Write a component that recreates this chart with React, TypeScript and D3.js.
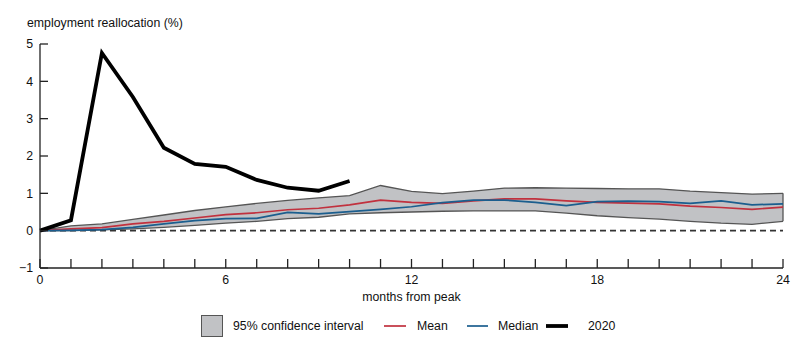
import React from "react";
import * as d3 from "d3";

// months from peak
const months = d3.range(0, 25);
const months2020 = d3.range(0, 11);

// employment reallocation (%)
const upper = [0, 0.13, 0.18, 0.3, 0.42, 0.54, 0.64, 0.73, 0.81, 0.88, 0.94, 1.21, 1.05, 0.99, 1.06, 1.14, 1.15, 1.14, 1.13, 1.12, 1.12, 1.06, 1.02, 0.98, 1.0];
const lower = [0, 0, 0.02, 0.05, 0.09, 0.14, 0.2, 0.25, 0.32, 0.36, 0.45, 0.48, 0.5, 0.52, 0.53, 0.53, 0.53, 0.47, 0.4, 0.35, 0.31, 0.25, 0.2, 0.17, 0.25];
const mean = [0, 0.05, 0.08, 0.18, 0.25, 0.34, 0.43, 0.48, 0.56, 0.6, 0.69, 0.82, 0.76, 0.73, 0.8, 0.85, 0.85, 0.8, 0.76, 0.74, 0.72, 0.66, 0.62, 0.57, 0.63];
const median = [0, 0.01, 0.03, 0.09, 0.18, 0.27, 0.32, 0.33, 0.49, 0.45, 0.51, 0.57, 0.64, 0.75, 0.82, 0.82, 0.76, 0.67, 0.78, 0.79, 0.78, 0.73, 0.8, 0.69, 0.72];
const y2020 = [0, 0.28, 4.76, 3.58, 2.22, 1.79, 1.71, 1.36, 1.15, 1.07, 1.33];

const yTicks = [-1, 0, 1, 2, 3, 4, 5];
const xLabels = [0, 6, 12, 18, 24];

const FONT = "'Liberation Sans', Arial, Helvetica, sans-serif";
const FS = 12.3;

const App = () => {
  const x = d3.scaleLinear().domain([0, 24]).range([40, 783]);
  const y = d3.scaleLinear().domain([-1, 5]).range([268, 44]);

  const band = d3
    .area<number>()
    .x((d) => x(d))
    .y0((d) => y(lower[d]))
    .y1((d) => y(upper[d]));
  const upperLine = d3.line<number>().x((d) => x(d)).y((d) => y(upper[d]));
  const lowerLine = d3.line<number>().x((d) => x(d)).y((d) => y(lower[d]));
  const meanLine = d3.line<number>().x((d) => x(d)).y((d) => y(mean[d]));
  const medianLine = d3.line<number>().x((d) => x(d)).y((d) => y(median[d]));
  const line2020 = d3.line<number>().x((d) => x(d)).y((d) => y(y2020[d]));

  const legendY = 326;

  return (
    <svg
      width={800}
      height={351}
      style={{ position: "absolute", left: 0, top: 0, background: "#fff" }}
      fontFamily={FONT}
    >
      <text x={27} y={27} fontSize={FS} fill="#111">
        employment reallocation (%)
      </text>

      {/* confidence band */}
      <path d={band(months)} fill="#c1c2c5" />
      <path d={upperLine(months)} fill="none" stroke="#555" strokeWidth={1.3} />
      <path d={lowerLine(months)} fill="none" stroke="#555" strokeWidth={1.3} />
      <line x1={x(24)} x2={x(24)} y1={y(upper[24])} y2={y(lower[24])} stroke="#555" strokeWidth={1.3} />

      {/* zero line */}
      <line x1={x(0)} x2={x(24)} y1={y(0)} y2={y(0)} stroke="#333" strokeWidth={1.7} strokeDasharray="6,4" />

      <path d={meanLine(months)} fill="none" stroke="#c1313e" strokeWidth={1.7} />
      <path d={medianLine(months)} fill="none" stroke="#1b5e8e" strokeWidth={1.7} />
      <path d={line2020(months2020)} fill="none" stroke="#000" strokeWidth={3.8} strokeLinejoin="miter" />

      {/* y axis */}
      <line x1={40} x2={40} y1={y(5)} y2={y(-1)} stroke="#222" strokeWidth={1.3} />
      {yTicks.map((t) => (
        <g key={t}>
          <line x1={40} x2={48} y1={y(t)} y2={y(t)} stroke="#222" strokeWidth={1.3} />
          <text x={33} y={y(t)} dy="0.35em" textAnchor="end" fontSize={FS} fill="#111">
            {t < 0 ? "\u2212" + Math.abs(t) : t}
          </text>
        </g>
      ))}

      {/* x axis */}
      <line x1={x(0)} x2={x(24)} y1={268} y2={268} stroke="#222" strokeWidth={1.3} />
      {months.map((m) => (
        <line key={m} x1={x(m)} x2={x(m)} y1={268} y2={259} stroke="#222" strokeWidth={1.3} />
      ))}
      {xLabels.map((m) => (
        <text key={m} x={x(m)} y={284} textAnchor="middle" fontSize={FS} fill="#111">
          {m}
        </text>
      ))}
      <text x={x(12)} y={301} textAnchor="middle" fontSize={FS} fill="#111">
        months from peak
      </text>

      {/* legend */}
      <rect x={201.5} y={315.5} width={21} height={21} fill="#c1c2c5" stroke="#555" strokeWidth={1} />
      <text x={233} y={legendY} dy="0.35em" fontSize={FS} fill="#111">
        95% confidence interval
      </text>
      <line x1={384} x2={406} y1={legendY} y2={legendY} stroke="#c1313e" strokeWidth={1.7} />
      <text x={417} y={legendY} dy="0.35em" fontSize={FS} fill="#111">
        Mean
      </text>
      <line x1={467} x2={488} y1={legendY} y2={legendY} stroke="#1b5e8e" strokeWidth={1.7} />
      <text x={498} y={legendY} dy="0.35em" fontSize={FS} fill="#111">
        Median
      </text>
      <line x1={546} x2={568} y1={legendY} y2={legendY} stroke="#000" strokeWidth={3.8} />
      <text x={588} y={legendY} dy="0.35em" fontSize={FS} fill="#111">
        2020
      </text>
    </svg>
  );
};

export default App;
